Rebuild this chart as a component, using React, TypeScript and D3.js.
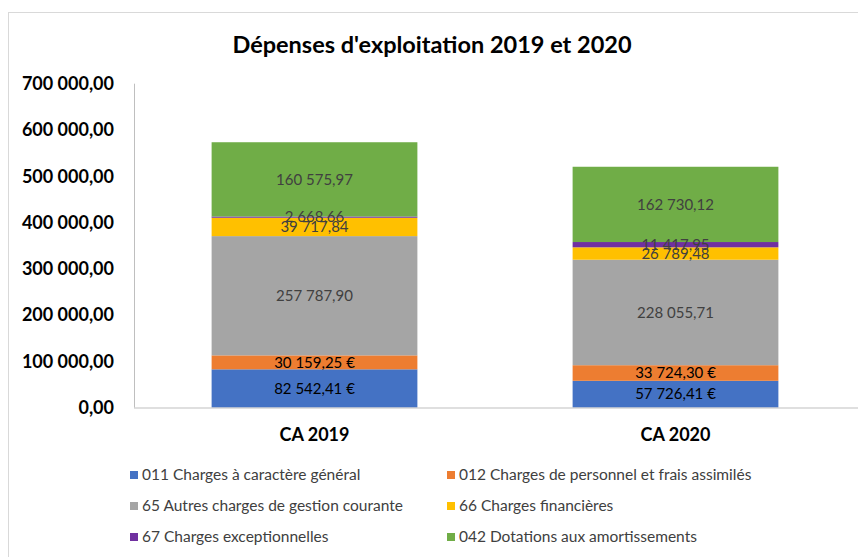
import * as d3 from "d3";

const categories = ["CA 2019", "CA 2020"];
const seriesNames = [
  "011 Charges à caractère général",
  "012 Charges de personnel et frais assimilés",
  "65 Autres charges de gestion courante",
  "66 Charges financières",
  "67 Charges exceptionnelles",
  "042 Dotations aux amortissements",
];
const charges011 = [82542.41, 57726.41];
const charges012 = [30159.25, 33724.3];
const charges65 = [257787.9, 228055.71];
const charges66 = [39717.84, 26789.48];
const charges67 = [2668.66, 11417.95];
const charges042 = [160575.97, 162730.12];
const yTicks = [0, 100000, 200000, 300000, 400000, 500000, 600000, 700000];

const colors = ["#4472c4", "#ed7d31", "#a5a5a5", "#ffc000", "#7030a0", "#70ad47"];
const euroSuffix = [true, true, false, false, false, false];
const font = "Lato, 'Open Sans', sans-serif";

const fmt = (v: number) => {
  const [i, dec] = v.toFixed(2).split(".");
  return i.replace(/\B(?=(\d{3})+(?!\d))/g, " ") + "," + dec;
};

export default function App() {
  const width = 858;
  const height = 557;
  const plot = { left: 134, right: 856, top: 83.7, bottom: 407.5 };

  const allSeries = [charges011, charges012, charges65, charges66, charges67, charges042];
  const table = categories.map((c, i) => {
    const row: Record<string, number | string> = { category: c };
    seriesNames.forEach((s, k) => (row[s] = allSeries[k][i]));
    return row;
  });
  const stacked = d3.stack<Record<string, number | string>>().keys(seriesNames)(table as any);

  const x = d3.scaleBand().domain(categories).range([plot.left, plot.right]).paddingInner(0.43).paddingOuter(0.215);
  const y = d3.scaleLinear().domain([0, 700000]).range([plot.bottom, plot.top]);

  return (
    <svg width={width} height={height} style={{ position: "absolute", left: 0, top: 0 }} fontFamily={font}>
      <rect x={0} y={0} width={width} height={height} fill="#fff" />
      <rect x={8.5} y={12.5} width={900} height={600} fill="none" stroke="#d9d9d9" />
      <text x={432} y={53} textAnchor="middle" fontSize={23.5} fontWeight="bold" fill="#000">
        Dépenses d'exploitation 2019 et 2020
      </text>

      {yTicks.map((t) => (
        <text key={t} x={114} y={y(t)} dy="0.35em" textAnchor="end" fontSize={18} fontWeight="bold" fill="#000">
          {fmt(t)}
        </text>
      ))}
      <line x1={plot.left + 0.5} x2={plot.left + 0.5} y1={plot.top} y2={plot.bottom} stroke="#bfbfbf" />

      {stacked.map((layer, k) =>
        layer.map((d, i) => (
          <rect
            key={`${k}-${i}`}
            x={x(categories[i])}
            y={y(d[1])}
            width={x.bandwidth()}
            height={y(d[0]) - y(d[1])}
            fill={colors[k]}
          />
        ))
      )}
      <line x1={plot.left} x2={width} y1={plot.bottom + 0.5} y2={plot.bottom + 0.5} stroke="#bfbfbf" />

      {stacked.map((layer, k) =>
        layer.map((d, i) => (
          <text
            key={`l${k}-${i}`}
            x={(x(categories[i]) ?? 0) + x.bandwidth() / 2}
            y={(y(d[0]) + y(d[1])) / 2}
            dy="0.35em"
            textAnchor="middle"
            fontSize={15}
            fill={euroSuffix[k] ? "#000" : "#404040"}
          >
            {fmt(allSeries[k][i]) + (euroSuffix[k] ? " €" : "")}
          </text>
        ))
      )}

      {categories.map((c) => (
        <text key={c} x={(x(c) ?? 0) + x.bandwidth() / 2} y={435} dy="0.35em" textAnchor="middle" fontSize={18} fontWeight="bold" fill="#000">
          {c}
        </text>
      ))}

      {seriesNames.map((s, k) => {
        const lx = k % 2 === 0 ? 130 : 447;
        const ly = 475 + Math.floor(k / 2) * 31;
        return (
          <g key={s}>
            <rect x={lx} y={ly - 4} width={8} height={8} fill={colors[k]} />
            <text x={lx + 12} y={ly} dy="0.35em" fontSize={15.5} fill="#404040">
              {s}
            </text>
          </g>
        );
      })}
    </svg>
  );
}
